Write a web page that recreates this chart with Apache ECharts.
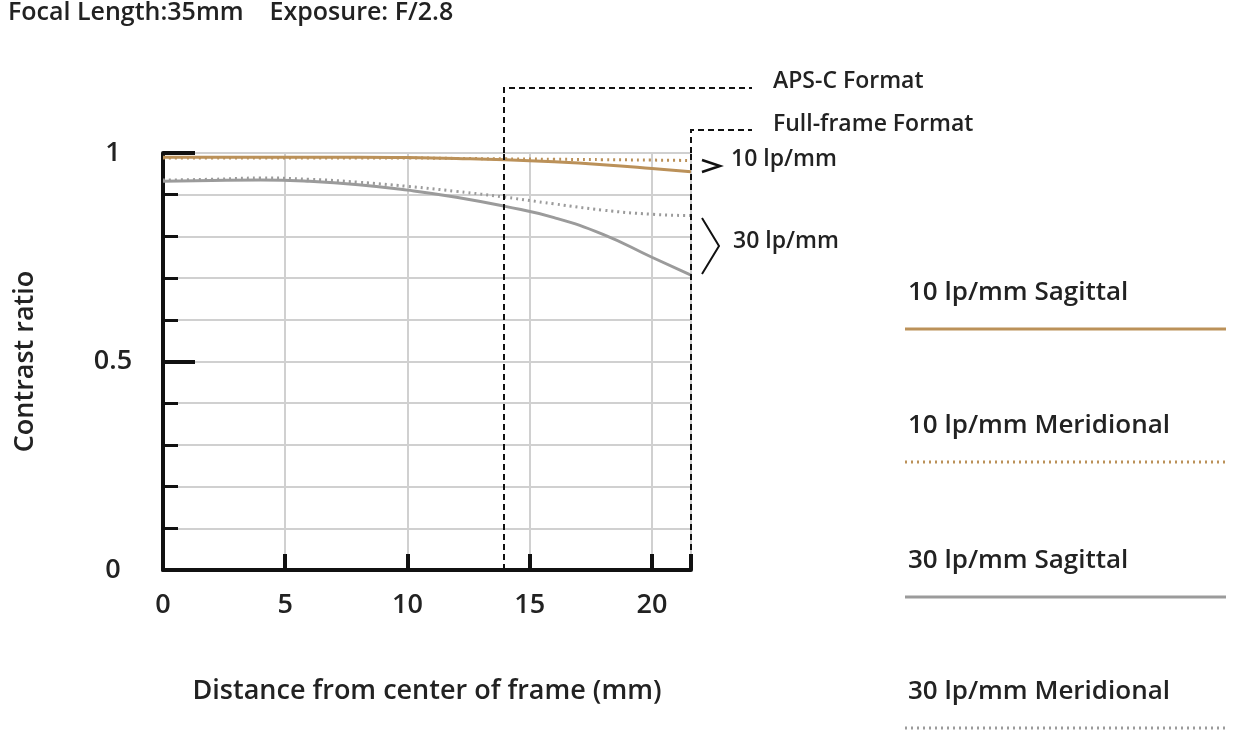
<!DOCTYPE html>
<html><head><meta charset="utf-8">
<script src="https://cdn.jsdelivr.net/npm/echarts@6/dist/echarts.min.js"></script>
<style>html,body{margin:0;padding:0;background:#fff}#c{width:1241px;height:740px}</style>
</head><body><div id="c"></div>
<script>
const xs = [0, 2, 4, 6, 8, 10, 12, 14, 16, 18, 20, 21.6];
const s10 = [0.99, 0.99, 0.99, 0.99, 0.99, 0.989, 0.987, 0.984, 0.979, 0.972, 0.963, 0.955];
const m10 = [0.988, 0.988, 0.988, 0.988, 0.988, 0.988, 0.987, 0.986, 0.985, 0.984, 0.983, 0.982];
const s30 = [0.932, 0.934, 0.935, 0.932, 0.924, 0.911, 0.894, 0.872, 0.845, 0.805, 0.75, 0.707];
const m30 = [0.935, 0.937, 0.94, 0.937, 0.93, 0.92, 0.908, 0.894, 0.878, 0.863, 0.853, 0.85];
const apsc = 13.95, ff = 21.6;
const legendNames = ['10 lp/mm Sagittal', '10 lp/mm Meridional', '30 lp/mm Sagittal', '30 lp/mm Meridional'];
const ORANGE = '#bb9159', GREY = '#9b9b9b';
const FONT = 'Open Sans';
const W = 600;
const pair = a => xs.map((x, i) => [x, a[i]]);
const chart = echarts.init(document.getElementById('c'));
const mk = (name, d, color, type) => ({name, type: 'line', data: pair(d), smooth: true, symbol: 'none',
  lineStyle: {color, width: 3, type}, z: 3});
const series = [mk(legendNames[0], s10, ORANGE, 'solid'), mk(legendNames[1], m10, ORANGE, [2, 4]),
  mk(legendNames[2], s30, GREY, 'solid'), mk(legendNames[3], m30, GREY, [2, 4])];
series[0].markLine = {silent: true, symbol: 'none', label: {show: false},
  lineStyle: {color: '#111', type: [6, 4], width: 2},
  data: [[{coord: [apsc, 0]}, {coord: [apsc, 1]}], [{coord: [ff, 0]}, {coord: [ff, 1]}]]};
chart.setOption({
  animation: false,
  grid: {left: 163, right: 550, top: 153, bottom: 170},
  xAxis: {type: 'value', min: 0, max: 21.6, interval: 5,
    name: 'Distance from center of frame (mm)', nameLocation: 'middle', nameGap: 108,
    nameTextStyle: {fontSize: 27, fontFamily: FONT, fontWeight: W, color: '#222'},
    axisLine: {lineStyle: {color: '#111', width: 4}},
    axisTick: {inside: true, length: 16, lineStyle: {color: '#111', width: 4}},
    axisLabel: {fontSize: 27, fontFamily: FONT, fontWeight: W, color: '#222', margin: 22,
      formatter: v => v > 21 ? '' : v},
    splitLine: {show: true, lineStyle: {color: '#d0d0d0', width: 2}}},
  yAxis: {type: 'value', min: 0, max: 1, interval: 0.5,
    name: 'Contrast ratio', nameLocation: 'middle', nameGap: 124,
    nameTextStyle: {fontSize: 27, fontFamily: FONT, fontWeight: W, color: '#222'},
    axisLine: {lineStyle: {color: '#111', width: 4}},
    axisTick: {inside: true, length: 32, lineStyle: {color: '#111', width: 4}},
    minorTick: {show: true, splitNumber: 5, length: 15, lineStyle: {color: '#111', width: 3}},
    minorSplitLine: {show: true, lineStyle: {color: '#d0d0d0', width: 2}},
    splitLine: {show: true, lineStyle: {color: '#d0d0d0', width: 2}},
    axisLabel: {fontSize: 27, fontFamily: FONT, fontWeight: W, color: '#222', margin: 50, align: 'center',
      formatter: v => String(v)}},
  series
});
const P = (x, y) => chart.convertToPixel({gridIndex: 0}, [x, y]);
const pa = P(apsc, 1), pf = P(ff, 1);
const txt = (x, y, t, s) => ({type: 'text', left: x, top: y, style: {text: t, fontSize: s, fontFamily: FONT, fontWeight: W, fill: '#222'}});
const dash = {stroke: '#111', lineWidth: 2, lineDash: [6, 4]};
const g = [
  txt(8, 0, 'Focal Length:35mm    Exposure: F/2.8', 25),
  {type: 'polyline', shape: {points: [[pa[0], pa[1]], [pa[0], 88], [752, 88]]}, style: dash},
  {type: 'polyline', shape: {points: [[pf[0], pf[1]], [pf[0], 130], [752, 130]]}, style: dash},
  txt(773, 70, 'APS-C Format', 23), txt(773, 113, 'Full-frame Format', 23),
  {type: 'polyline', shape: {points: [[702, 160], [720, 166], [702, 172]]}, style: {stroke: '#111', lineWidth: 2.5, fill: null}},
  txt(731, 148, '10 lp/mm', 23),
  {type: 'polyline', shape: {points: [[702, 218], [719, 246], [702, 274]]}, style: {stroke: '#111', lineWidth: 2, fill: null}},
  txt(733, 230, '30 lp/mm', 23)
];
const legY = [280, 413, 548, 679], legC = [ORANGE, ORANGE, GREY, GREY], legD = [null, [2, 4], null, [2, 4]];
legendNames.forEach((n, i) => {
  g.push(txt(908, legY[i], n, 26));
  g.push({type: 'line', shape: {x1: 905, y1: legY[i] + 49, x2: 1226, y2: legY[i] + 49},
    style: {stroke: legC[i], lineWidth: 3, lineDash: legD[i]}});
});
chart.setOption({graphic: g});
</script></body></html>
